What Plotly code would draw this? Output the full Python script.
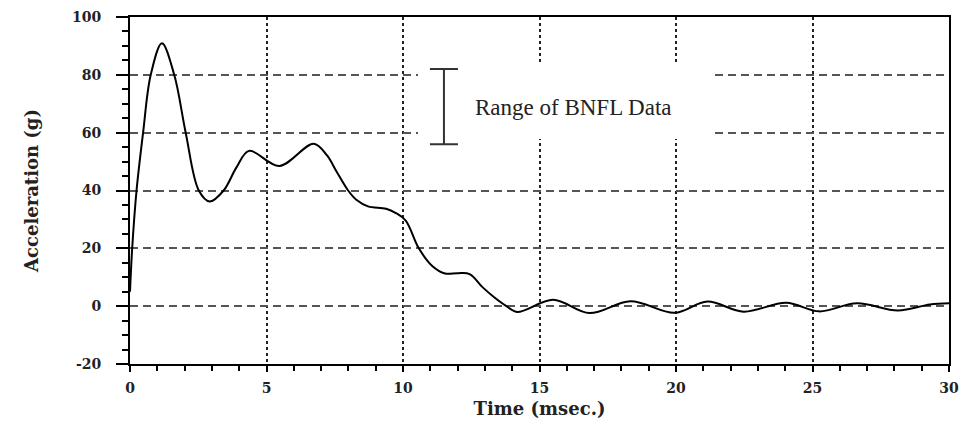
import plotly.graph_objects as go

# Data
time_ms = [0.0, 0.08, 0.24, 0.48, 0.76, 1.17, 1.62, 2.04, 2.52, 2.92, 3.43, 3.9,
           4.36, 5.47, 6.73, 7.21, 7.57, 7.99, 8.29, 8.72, 9.38, 9.74, 10.1,
           10.58, 11.06, 11.54, 12.0, 12.44, 12.92, 13.34, 13.76, 14.18, 15.5,
           16.83, 18.33, 19.95, 21.15, 22.48, 24.04, 25.24, 26.63, 28.13, 29.3, 30.0]
accel_g = [5, 20, 40, 60, 80, 90.9, 80, 60, 40, 36.2, 40, 48,
           53.7, 48.5, 56.2, 52.2, 46.5, 40, 36.8, 34.5, 33.7, 32.2, 29.6,
           20, 14.0, 11.3, 11.4, 11.1, 6.5, 3.1, 0.2, -2.0, 2.2,
           -2.4, 1.7, -2.3, 1.6, -1.9, 1.2, -1.8, 1.0, -1.5, 0.6, 1.0]

bnfl_time = [11.5]
bnfl_min = 56
bnfl_max = 82
bnfl_label = "Range of BNFL Data"

x_ticks = [0, 5, 10, 15, 20, 25, 30]
y_ticks = [-20, 0, 20, 40, 60, 80, 100]

fig = go.Figure()

fig.add_trace(go.Scatter(
    x=time_ms, y=accel_g, mode="lines",
    line=dict(color="black", width=2, shape="spline", smoothing=1.0),
    showlegend=False, hoverinfo="skip"))

mid = (bnfl_min + bnfl_max) / 2
fig.add_trace(go.Scatter(
    x=bnfl_time, y=[mid], mode="markers",
    marker=dict(size=1, color="rgba(0,0,0,0)"),
    error_y=dict(type="data", array=[bnfl_max - mid], arrayminus=[mid - bnfl_min],
                 color="#333333", thickness=2, width=14),
    showlegend=False, hoverinfo="skip"))

# white box behind the label interrupting the grid
fig.add_shape(type="rect", xref="x", yref="y", x0=10.55, x1=21.25, y0=57.8, y1=83.5,
              fillcolor="white", line=dict(width=0), layer="between")

fig.add_annotation(x=12.55, y=68.8, xref="x", yref="y", text=bnfl_label,
                   showarrow=False, xanchor="left", yanchor="middle",
                   font=dict(family="Liberation Serif", size=23, color="#222222"))

tick_font = dict(family="DejaVu Serif", size=14, color="#222222", weight="bold")
title_font = dict(family="DejaVu Serif", size=18, color="#222222", weight="bold")

fig.update_xaxes(
    range=[0, 30], tickvals=x_ticks, ticktext=[str(v) for v in x_ticks],
    showline=True, linecolor="black", linewidth=2, mirror=True,
    ticks="outside", ticklen=6, tickwidth=2, tickcolor="black",
    minor=dict(dtick=1, ticks="outside", ticklen=5, tickwidth=2, tickcolor="black", showgrid=False),
    showgrid=True, gridcolor="#222222", gridwidth=1.5, griddash="dot",
    zeroline=False, tickfont=tick_font, ticklabelstandoff=4, ticklabeloverflow="allow",
    title=dict(text="Time (msec.)", font=title_font, standoff=8),
)
fig.update_yaxes(
    range=[-20, 100], tickvals=y_ticks, ticktext=[str(v) for v in y_ticks],
    showline=True, linecolor="black", linewidth=2, mirror=True,
    ticks="outside", ticklen=12, tickwidth=2, tickcolor="black",
    minor=dict(dtick=5, ticks="outside", ticklen=6, tickwidth=2, tickcolor="black", showgrid=False),
    showgrid=True, gridcolor="#555555", gridwidth=1.8, griddash="8px,5px",
    zeroline=False, tickfont=tick_font, ticklabelstandoff=12, ticklabeloverflow="allow",
    title=dict(text="Acceleration (g)", font=title_font, standoff=29),
)

# the page body has an 8px margin; size the figure to fit inside the window
fig.update_layout(
    width=951, height=413,
    margin=dict(l=122, r=10, t=9, b=57, autoexpand=False),
    paper_bgcolor="white", plot_bgcolor="white",
)

fig.write_html("out.html")
